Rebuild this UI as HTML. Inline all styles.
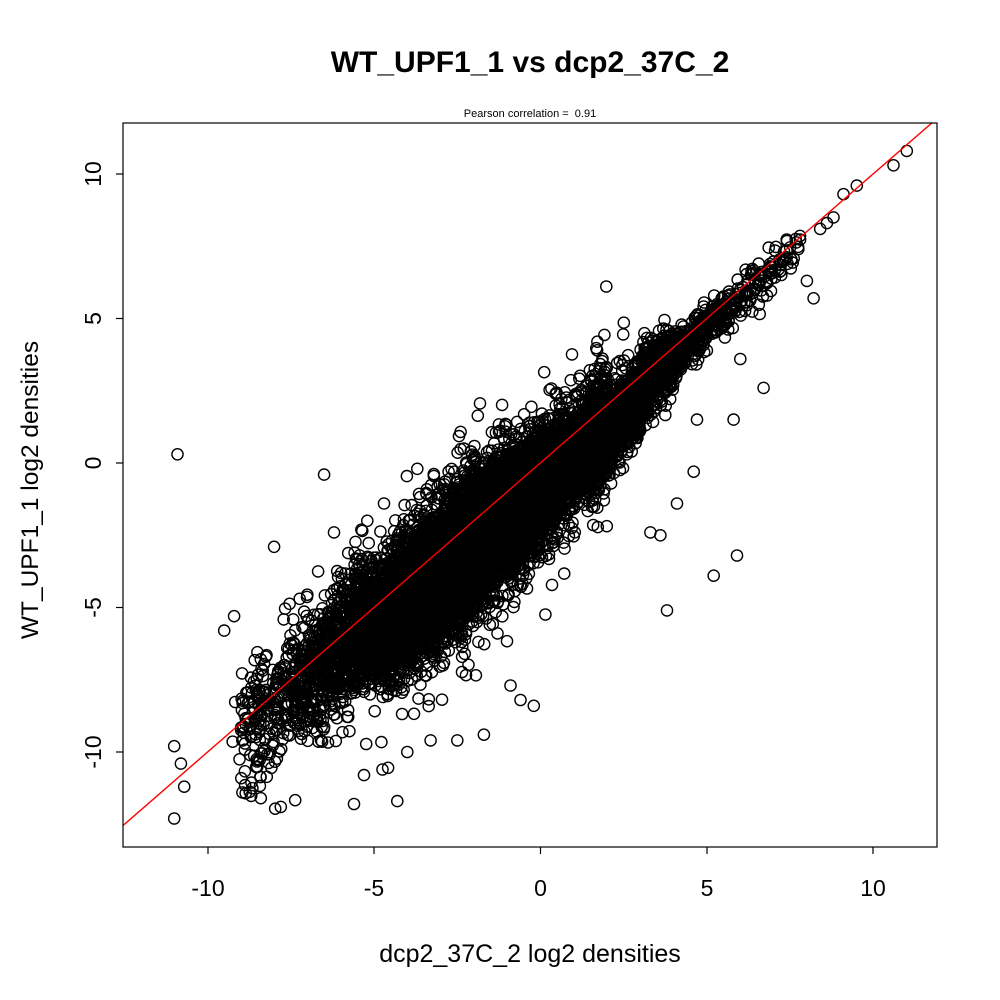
<!DOCTYPE html>
<html><head><meta charset="utf-8"><style>
body{margin:0;background:#fff}
svg{display:block}
text{font-family:"Liberation Sans",Arial,sans-serif;fill:#000;white-space:pre}
</style></head><body>
<svg id="s" width="1000" height="1000" viewBox="0 0 1000 1000">
<rect width="1000" height="1000" fill="#fff"/>
<defs><clipPath id="c"><rect x="123" y="123" width="814" height="724"/></clipPath></defs>
<g id="pts" clip-path="url(#c)" fill="none" stroke="#000" stroke-width="1.4"></g>
<line x1="123" y1="825.5" x2="937" y2="118.5" stroke="#f00" stroke-width="1.4" clip-path="url(#c)"/>
<rect x="123" y="123" width="814" height="724" fill="none" stroke="#000" stroke-width="1.2"/>
<g stroke="#000" stroke-width="1.2">
<line x1="208" y1="847" x2="208" y2="854"/><line x1="374" y1="847" x2="374" y2="854"/><line x1="540.5" y1="847" x2="540.5" y2="854"/><line x1="707" y1="847" x2="707" y2="854"/><line x1="873" y1="847" x2="873" y2="854"/>
<line x1="116" y1="174" x2="123" y2="174"/><line x1="116" y1="318.5" x2="123" y2="318.5"/><line x1="116" y1="463" x2="123" y2="463"/><line x1="116" y1="607.5" x2="123" y2="607.5"/><line x1="116" y1="752" x2="123" y2="752"/>
</g>
<g font-size="23" text-anchor="middle">
<text x="208" y="896">-10</text><text x="374" y="896">-5</text><text x="540.5" y="896">0</text><text x="707" y="896">5</text><text x="873" y="896">10</text>
<text transform="translate(101,174) rotate(-90)">10</text>
<text transform="translate(101,318.5) rotate(-90)">5</text>
<text transform="translate(101,463) rotate(-90)">0</text>
<text transform="translate(101,607.5) rotate(-90)">-5</text>
<text transform="translate(101,752) rotate(-90)">-10</text>
</g>
<text x="530" y="72" font-size="30" font-weight="bold" text-anchor="middle">WT_UPF1_1 vs dcp2_37C_2</text>
<text x="530" y="117" font-size="11" text-anchor="middle">Pearson correlation =  0.91</text>
<text x="530" y="962" font-size="25" text-anchor="middle">dcp2_37C_2 log2 densities</text>
<text transform="translate(38,490) rotate(-90)" font-size="24.5" text-anchor="middle">WT_UPF1_1 log2 densities</text>
</svg>
<script>
(function(){
var g=document.getElementById('pts');var seed=987654321;
function r(){seed^=seed<<13;seed>>>=0;seed^=seed>>>17;seed^=seed<<5;seed>>>=0;return seed/4294967296;}
function n(){var u=r()||1e-9,v=r();return Math.sqrt(-2*Math.log(u))*Math.cos(2*Math.PI*v);}
function X(x){return 540.5+x*33.3;}function Y(y){return 463-y*28.9;}
var h='';
function add(x,y){h+='<circle cx="'+X(x).toFixed(1)+'" cy="'+Y(y).toFixed(1)+'" r="5.6"/>';}
for(var i=0;i<14000;i++){
 var x=-2.2+n()*2.0;
 if(r()<0.15)x=1.5+Math.abs(n())*1.8;
 if(x>7.5)x=7.5-r()*2;
 var sd=x<-5?1.1:(x<-2?1.05:(x<2?0.95:(x<4?0.6:0.35)));
 var off=x<-5?-0.3:(x<3?-0.8:-0.3);
 var e=n(); if(r()<0.08&&x<3)e*=1.6;
 add(x,x+off+e*sd);
}
for(var i=0;i<350;i++){var x=-9+r()*3;add(x,x-0.2+n()*1.2);}
for(var i=0;i<120;i++){var x=4.5+r()*3.3;add(x,x-0.3+n()*0.35);}
var o=[[-10.9,0.3],[-6.5,-0.4],[-8,-2.9],[-11,-12.3],[-11,-9.8],[-10.8,-10.4],[-10.7,-11.2],[5.2,-3.9],[5.9,-3.2],[3.8,-5.1],[6.7,2.6],[5.8,1.5],[8.2,5.7],[8,6.3],[11,10.8],[10.6,10.3],[9.5,9.6],[9.1,9.3],[8.8,8.5],[8.6,8.3],[8.4,8.1],[-5.6,-11.8],[-4.3,-11.7],[-7.8,-11.9],[-8.4,-11.6],[-0.6,-8.2],[-0.2,-8.4],[-0.9,-7.7],[-4.0,-10],[-5.3,-10.8],[-2.5,-9.6],[-3.3,-9.6],[-1.7,-9.4],[3.6,-2.5],[3.3,-2.4],[4.1,-1.4],[4.6,-0.3],[4.7,1.5],[6,3.6],[1.7,3.9],[-9.5,-5.8],[-9.2,-5.3],[-6.2,-2.4],[-5.2,-2],[-4.7,-1.4],[-3.7,-0.2],[-2.3,0.5],[0,1.3]];
o.forEach(function(p){add(p[0],p[1]);});
g.innerHTML=h;
})();
</script>
</body></html>
